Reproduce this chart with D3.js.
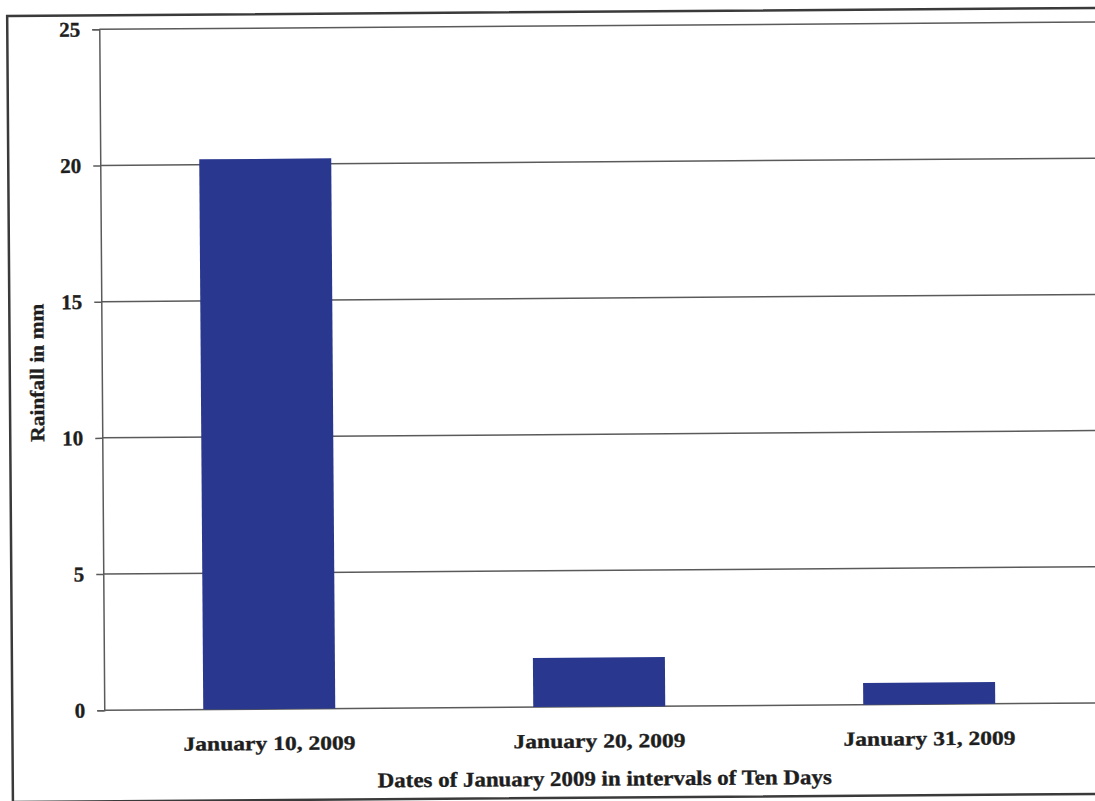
<!DOCTYPE html>
<html>
<head>
<meta charset="utf-8">
<script src="https://cdn.jsdelivr.net/npm/d3@7"></script>
<style>
  html, body { margin: 0; padding: 0; background: #fff; }
  svg { display: block; }
  text { font-family: "Liberation Serif", "Times New Roman", serif; font-weight: bold; fill: #1e1e1e; stroke: #1e1e1e; stroke-width: 0.35; }
</style>
</head>
<body>
<svg id="chart" width="1095" height="801"></svg>
<script>
// Rainfall totals for each ten-day interval of January 2009
const categories = ["January 10, 2009", "January 20, 2009", "January 31, 2009"];
const rainfall = [20.2, 1.8, 0.8];
const yTicks = [0, 5, 10, 15, 20, 25];
const xTitle = "Dates of January 2009 in intervals of Ten Days";
const yTitle = "Rainfall in mm";

const W = 1095, H = 801;
const plot = { left: 102, right: 1092, top: 26, bottom: 707 };

const svg = d3.select("#chart");
// the printed page sits slightly askew
const root = svg.append("g").attr("transform", `rotate(-0.42, ${W / 2}, ${H / 2})`);

// outer frame
root.append("rect")
  .attr("x", 10).attr("y", 12)
  .attr("width", 1200).attr("height", 786)
  .attr("fill", "none")
  .attr("stroke", "#3a3a3a")
  .attr("stroke-width", 2.5);

const x = d3.scaleBand()
  .domain(categories)
  .range([plot.left, plot.right])
  .paddingInner(0.6)
  .paddingOuter(0.3);

const y = d3.scaleLinear()
  .domain([0, 25])
  .range([plot.bottom, plot.top]);

// horizontal gridlines
root.append("g")
  .selectAll("line")
  .data(yTicks)
  .join("line")
  .attr("x1", plot.left).attr("x2", 1200)
  .attr("y1", d => y(d)).attr("y2", d => y(d))
  .attr("stroke", "#5a5a5a")
  .attr("stroke-width", 1.5);

// bars
root.append("g")
  .selectAll("rect")
  .data(rainfall)
  .join("rect")
  .attr("x", (d, i) => x(categories[i]))
  .attr("width", x.bandwidth())
  .attr("y", d => y(d))
  .attr("height", d => y(0) - y(d))
  .attr("fill", "#29388e");

// y axis
const yAxis = root.append("g")
  .attr("transform", `translate(${plot.left},0)`)
  .call(d3.axisLeft(y).tickValues(yTicks).tickSize(7).tickPadding(12));
yAxis.select(".domain").attr("stroke", "#5a5a5a").attr("stroke-width", 1.5);
yAxis.selectAll(".tick line").attr("stroke", "#5a5a5a").attr("stroke-width", 1.5);
yAxis.selectAll(".tick text")
  .attr("font-size", 21)
  .attr("font-family", "Liberation Serif, Times New Roman, serif")
  .attr("font-weight", "bold")
  .attr("fill", "#1e1e1e");

// category labels
root.append("g")
  .selectAll("text")
  .data(categories)
  .join("text")
  .attr("x", d => x(d) + x.bandwidth() / 2)
  .attr("y", plot.bottom + 41)
  .attr("text-anchor", "middle")
  .attr("font-size", 20)
  .attr("textLength", 172)
  .attr("lengthAdjust", "spacingAndGlyphs")
  .text(d => d);

// axis titles
root.append("text")
  .attr("x", 602)
  .attr("y", 786)
  .attr("text-anchor", "middle")
  .attr("font-size", 21)
  .attr("textLength", 454)
  .attr("lengthAdjust", "spacingAndGlyphs")
  .text(xTitle);

root.append("text")
  .attr("transform", "translate(44,369) rotate(-90)")
  .attr("text-anchor", "middle")
  .attr("font-size", 20)
  .attr("textLength", 138)
  .attr("lengthAdjust", "spacingAndGlyphs")
  .text(yTitle);
</script>
</body>
</html>
